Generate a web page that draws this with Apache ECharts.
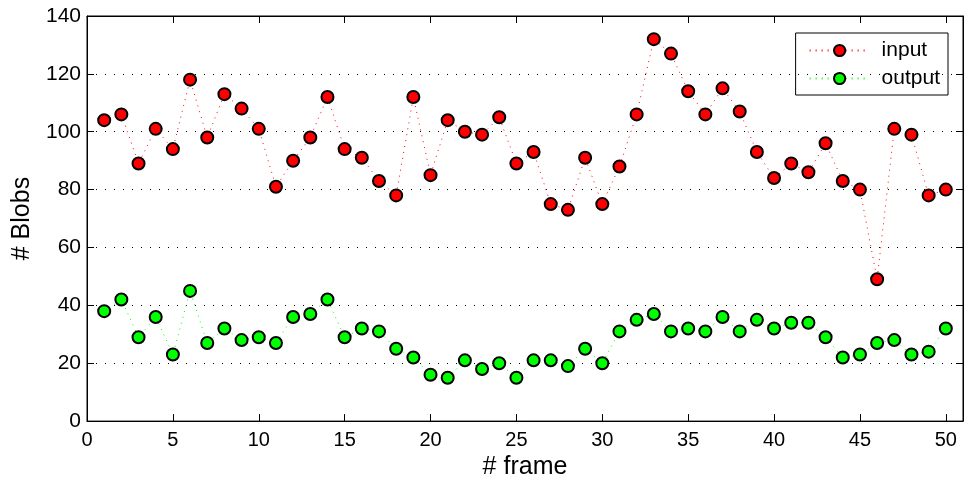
<!DOCTYPE html>
<html>
<head>
<meta charset="utf-8">
<script src="https://cdn.jsdelivr.net/npm/echarts@6/dist/echarts.min.js"></script>
<style>
  html, body { margin: 0; padding: 0; background: #fff; }
  #chart { width: 964px; height: 485px; }
</style>
</head>
<body>
<div id="chart"></div>
<script>
// frame numbers and blob counts
var frames = [];
for (var i = 1; i <= 50; i++) frames.push(i);
var inputBlobs = [104, 106, 89, 101, 94, 118, 98, 113, 108, 101,
                  81, 90, 98, 112, 94, 91, 83, 78, 112, 85,
                  104, 100, 99, 105, 89, 93, 75, 73, 91, 75,
                  88, 106, 132, 127, 114, 106, 115, 107, 93, 84,
                  89, 86, 96, 83, 80, 49, 101, 99, 78, 80];
var outputBlobs = [38, 42, 29, 36, 23, 45, 27, 32, 28, 29,
                   27, 36, 37, 42, 29, 32, 31, 25, 22, 16,
                   15, 21, 18, 20, 15, 21, 21, 19, 25, 20,
                   31, 35, 37, 31, 32, 31, 36, 31, 35, 32,
                   34, 34, 29, 22, 23, 27, 28, 23, 24, 32];
var xTicks = [0, 5, 10, 15, 20, 25, 30, 35, 40, 45, 50];

function pairs(vals) {
  return frames.map(function (f, i) { return [f, vals[i]]; });
}

var font = 'Liberation Sans, Arial, Helvetica, sans-serif';
var chart = echarts.init(document.getElementById('chart'));

function mkSeries(name, vals, color) {
  return {
    name: name,
    type: 'line',
    data: pairs(vals),
    symbol: 'circle',
    symbolSize: 12,
    itemStyle: { color: color, borderColor: '#000', borderWidth: 2 },
    lineStyle: { color: color, width: 1, type: [1, 5] },
    animation: false
  };
}

chart.setOption({
  animation: false,
  grid: { left: 87, right: 1, top: 16, bottom: 61, show: true, borderColor: '#000', borderWidth: 1 },
  legend: {
    orient: 'vertical',
    right: 16, top: 33,
    borderColor: '#000', borderWidth: 1,
    padding: [7, 8, 6, 13],
    itemWidth: 60, itemHeight: 14, itemGap: 7,
    textStyle: { fontFamily: font, fontSize: 21, color: '#000', padding: [0, 0, 0, 7] },
    data: ['input', 'output']
  },
  xAxis: [{
    type: 'value', min: 0, max: 51, interval: 5,
    name: '# frame', nameLocation: 'middle', nameGap: 33,
    nameTextStyle: { fontFamily: font, fontSize: 25, color: '#000' },
    axisLine: { onZero: false, lineStyle: { color: '#000' } },
    axisTick: { inside: true, length: 7, customValues: xTicks, lineStyle: { color: '#000' } },
    axisLabel: { fontFamily: font, fontSize: 20, color: '#000', margin: 9, customValues: xTicks },
    splitLine: { show: false }
  }, {
    type: 'value', position: 'top', min: 0, max: 51, interval: 5,
    axisLine: { onZero: false, lineStyle: { color: '#000' } },
    axisTick: { inside: true, length: 7, customValues: xTicks, lineStyle: { color: '#000' } },
    axisLabel: { show: false },
    splitLine: { show: false }
  }],
  yAxis: [{
    type: 'value', min: 0, max: 140, interval: 20,
    name: '# Blobs', nameLocation: 'middle', nameGap: 52,
    nameTextStyle: { fontFamily: font, fontSize: 25, color: '#000' },
    axisLine: { show: true, onZero: false, lineStyle: { color: '#000' } },
    axisTick: { show: true, inside: true, length: 7, lineStyle: { color: '#000' } },
    axisLabel: { fontFamily: font, fontSize: 21, color: '#000', margin: 6 },
    splitLine: { show: true, lineStyle: { color: '#000', width: 1, type: [1, 8] } }
  }, {
    type: 'value', position: 'right', min: 0, max: 140, interval: 20,
    axisLine: { show: true, onZero: false, lineStyle: { color: '#000' } },
    axisTick: { show: true, inside: true, length: 7, lineStyle: { color: '#000' } },
    axisLabel: { show: false },
    splitLine: { show: false }
  }],
  series: [
    mkSeries('input', inputBlobs, '#ff0000'),
    mkSeries('output', outputBlobs, '#00ff00')
  ]
});
</script>
</body>
</html>
